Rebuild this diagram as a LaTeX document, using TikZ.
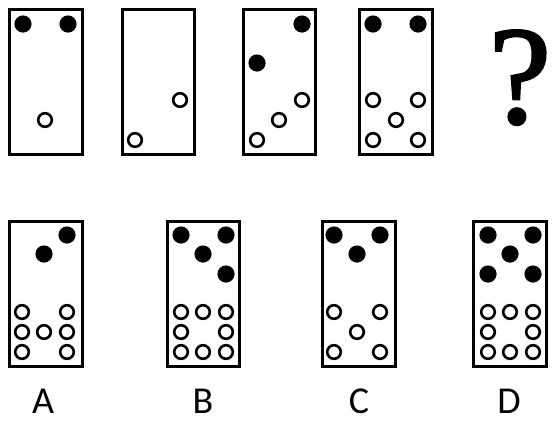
\documentclass[tikz,border=0pt]{standalone}
\usepackage{fontspec}
\newfontfamily\labfont{Carlito}
\newfontfamily\qfont[FakeBold=1.8]{Liberation Serif}
\newcommand\mydotB[1]{\fill[black] (#1) circle (8.6pt);}
\newcommand\mydotW[1]{\draw[black,line width=2.6pt] (#1) circle (6.8pt);}
\begin{document}
\begin{tikzpicture}[x=1pt,y=-1pt,
  card/.style={draw=black,line width=3pt},
  lab/.style={font=\labfont\fontsize{38}{38}\selectfont,anchor=base,inner sep=0pt},
  qmark/.style={font=\qfont\fontsize{140}{140}\selectfont,anchor=base,inner sep=0pt}]
\useasboundingbox (0,0) rectangle (552,421);
\fill[white] (0,0) rectangle (552,421);
% top row
\draw[card] (9,9) rectangle (82,154);
\mydotB{23,24}\mydotB{68,24}\mydotW{45,120}
\draw[card] (122,9) rectangle (194,154);
\mydotW{180,100}\mydotW{135,140}
\draw[card] (243,9) rectangle (315,154);
\mydotB{302,24}\mydotB{257,63}
\mydotW{302,100}\mydotW{279,120}\mydotW{257,140}
\draw[card] (359,9) rectangle (432,154);
\mydotB{373,24}\mydotB{418,24}
\mydotW{373,100}\mydotW{418,100}\mydotW{396,120}\mydotW{373,140}\mydotW{418,140}
\node[qmark] (q) at (520,123) {?};
% bottom row
\draw[card] (9,221) rectangle (82,366);
\mydotB{67,235}\mydotB{44,254}
\mydotW{22,312}\mydotW{67,312}
\mydotW{22,332}\mydotW{44,332}\mydotW{67,332}
\mydotW{22,352}\mydotW{67,352}
\draw[card] (167,221) rectangle (239,366);
\mydotB{181,235}\mydotB{226,235}\mydotB{203,254}\mydotB{226,274}
\mydotW{181,312}\mydotW{203,312}\mydotW{226,312}
\mydotW{181,332}\mydotW{226,332}
\mydotW{181,352}\mydotW{203,352}\mydotW{226,352}
\draw[card] (322,221) rectangle (395,366);
\mydotB{334,235}\mydotB{380,235}\mydotB{357,254}
\mydotW{334,312}\mydotW{380,312}\mydotW{357,332}\mydotW{334,352}\mydotW{380,352}
\draw[card] (473,221) rectangle (546,366);
\mydotB{488,235}\mydotB{533,235}\mydotB{510,254}\mydotB{488,274}\mydotB{533,274}
\mydotW{488,312}\mydotW{510,312}\mydotW{533,312}
\mydotW{488,332}\mydotW{533,332}
\mydotW{488,352}\mydotW{510,352}\mydotW{533,352}
% labels
\node[lab] (la) at (43,413) {A};
\node[lab] (lb) at (203,413) {B};
\node[lab] (lc) at (359,413) {C};
\node[lab] (ld) at (509,413) {D};
\end{tikzpicture}
\end{document}
